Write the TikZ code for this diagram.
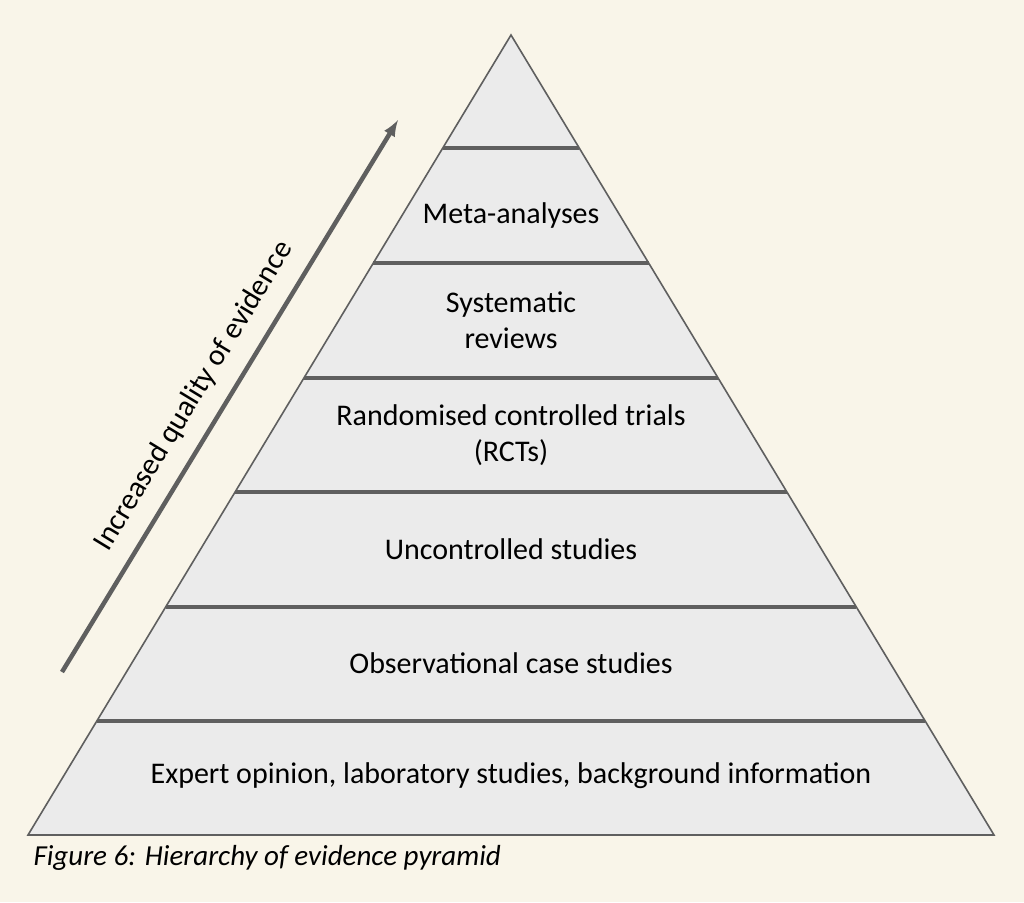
\documentclass[tikz,border=0pt]{standalone}
\usepackage{fontspec}
\setmainfont{Carlito}
\definecolor{paper}{RGB}{249,245,233}
\definecolor{band}{RGB}{235,235,235}
\definecolor{edge}{RGB}{95,95,95}
\tikzset{
  level/.style={font=\fontsize{30}{36}\selectfont, align=center, text=black},
  divider/.style={edge, line width=3.4pt},
}
\begin{document}
\begin{tikzpicture}[x=1pt, y=-1pt]
            \fill[paper] (0, 0) rectangle (1024, 902);
            \useasboundingbox (0, 0) rectangle (1024, 902);

            % pyramid
            \coordinate (apex) at (511, 35);
            \coordinate (baseL) at (28, 835);
            \coordinate (baseR) at (994, 835);
            \filldraw[fill=band, draw=edge, line width=1.6pt] (apex) -- (baseR) -- (baseL) -- cycle;

            \foreach \y in {148, 263, 378, 492, 607, 721} {
                \pgfmathsetmacro{\hw}{(\y-35)/800*483}
                \draw[divider] (511-\hw, \y) -- (511+\hw, \y);
            }

            \node[level] (meta) at (511, 215) {Meta-analyses};
            \node[level] (sysrev) at (511, 320) {Systematic\\reviews};
            \node[level] (rct) at (511, 435) {Randomised controlled trials\\(RCTs)};
            \node[level] (uncontrolled) at (511, 549) {Uncontrolled studies};
            \node[level] (observational) at (511, 663) {Observational case studies};
            \node[level] (expert) at (511, 776) {Expert opinion, laboratory studies, background information};

            % quality arrow
            \coordinate (arrowStart) at (62, 672);
            \coordinate (arrowEnd) at (398, 120);
            \draw[->, >=latex, edge, line width=4.5pt] (arrowStart) -- (arrowEnd);
            \node[level, rotate=58.7] (quality) at (194, 396) {Increased quality of evidence};

            \node[font=\fontsize{29}{34}\selectfont\itshape, anchor=west] (caption) at (30, 858) {Figure 6: Hierarchy of evidence pyramid};
        \end{tikzpicture}
\end{document}
